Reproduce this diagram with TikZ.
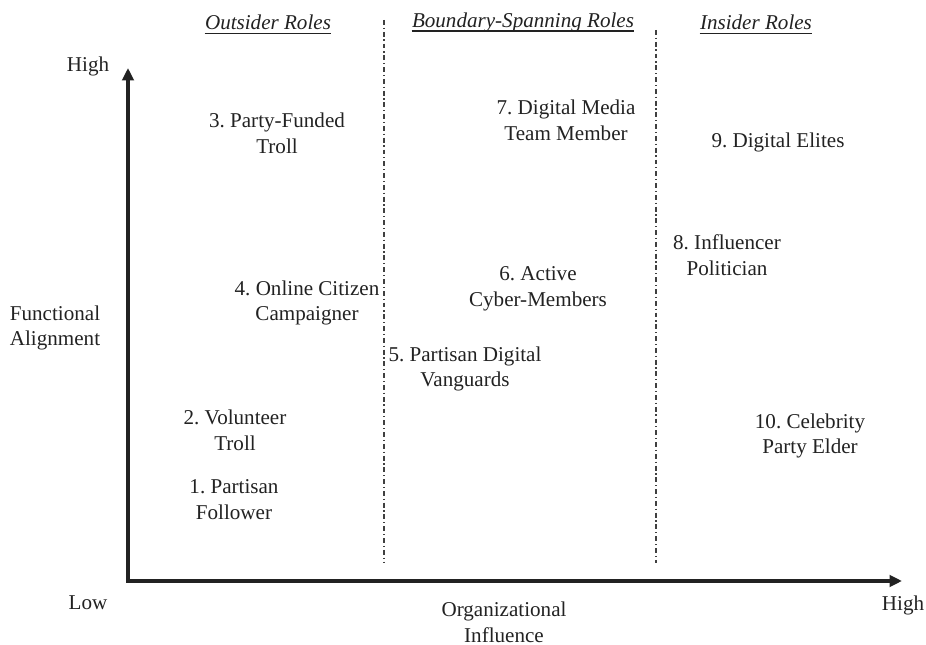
\documentclass[tikz,border=0pt]{standalone}
\usepackage{fontspec}
\setmainfont{Liberation Serif}
\usepackage{tikz}
\usetikzlibrary{arrows.meta,positioning,calc}
\definecolor{inkgray}{RGB}{34,34,34}
\frenchspacing

\begin{document}
\begin{tikzpicture}[
    x=1cm, y=1cm,
    rolelabel/.style={font=\fontsize{12pt}{14.7pt}\selectfont, align=center, text=inkgray, inner sep=1pt},
    axislabel/.style={font=\fontsize{12pt}{14.7pt}\selectfont, align=center, text=inkgray, inner sep=1pt},
    headlabel/.style={font=\fontsize{12pt}{14.7pt}\selectfont\itshape, text=inkgray, inner xsep=0pt, inner ysep=1pt},
    divider/.style={draw=black!75, line width=0.9pt,
                    dash pattern={on 2.8pt off 1.6pt on 0.7pt off 1.6pt}},
    axisline/.style={draw=inkgray, line width=2pt,
                     -{Triangle[length=2.5mm, width=2.3mm]}}
]
\useasboundingbox (0,0) rectangle (18.52,12.9);

% axes
\coordinate (origin) at (2.56,1.28);
\coordinate (ytip) at (2.56,11.54);
\coordinate (xtip) at (18.04,1.28);
\draw[axisline] ([yshift=-1pt]origin) -- (ytip);
\draw[axisline] ([xshift=-1pt]origin) -- (xtip);

% role boundaries
\coordinate (divAtop) at (7.68,12.5);
\coordinate (divAbot) at (7.68,1.64);
\coordinate (divBtop) at (13.12,12.3);
\coordinate (divBbot) at (13.12,1.64);
\draw[divider] (divAtop) -- (divAbot);
\draw[divider] (divBtop) -- (divBbot);

% axis texts
\node[axislabel] (yhigh) at (1.76,11.58) {High};
\node[axislabel] (ylow) at (1.76,0.84) {Low};
\node[axislabel] (xhigh) at (18.06,0.80) {High};
\node[axislabel] (ytitle) at (1.10,6.34) {Functional\\Alignment};
\node[axislabel] (xtitle) at (10.08,0.46) {Organizational\\Influence};

% column headings
\node[headlabel] (outsider) at (5.36,12.46) {Outsider Roles};
\node[headlabel] (boundary) at (10.46,12.46) {Boundary-Spanning Roles};
\node[headlabel] (insider) at (15.12,12.46) {Insider Roles};
\foreach \h in {outsider,boundary,insider}
    \draw[inkgray, line width=0.9pt]
        ([yshift=-2.4pt]\h.base west) -- ([yshift=-2.4pt]\h.base east);

% roles
\node[rolelabel] (role1) at (4.68,2.90) {1. Partisan\\Follower};
\node[rolelabel] (role2) at (4.70,4.30) {2. Volunteer\\Troll};
\node[rolelabel] (role3) at (5.54,10.24) {3. Party-Funded\\Troll};
\node[rolelabel] (role4) at (6.14,6.84) {4. Online Citizen\\Campaigner};
\node[rolelabel] (role5) at (9.30,5.52) {5. Partisan Digital\\Vanguards};
\node[rolelabel] (role6) at (10.76,7.12) {6. Active\\Cyber-Members};
\node[rolelabel] (role7) at (11.32,10.50) {7. Digital Media\\Team Member};
\node[rolelabel] (role8) at (14.54,7.80) {8. Influencer\\Politician};
\node[rolelabel] (role9) at (15.56,10.06) {9. Digital Elites};
\node[rolelabel] (role10) at (16.20,4.18) {10. Celebrity\\Party Elder};
\end{tikzpicture}
\end{document}
